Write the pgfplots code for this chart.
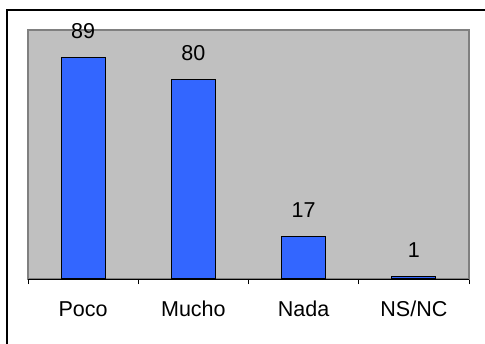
\documentclass[border=0pt]{standalone}
\usepackage{fontspec}
\setmainfont{Liberation Sans}
\usepackage{pgfplots}
\pgfplotsset{compat=1.18}
\definecolor{barblue}{HTML}{3366FF}
\definecolor{plotgray}{HTML}{C0C0C0}
\definecolor{edgegray}{HTML}{808080}
\newcommand{\lblfont}{\fontsize{21.6}{25}\selectfont}
\begin{document}
\begin{tikzpicture}
\useasboundingbox (0,0) rectangle (485bp,344bp);
\draw[line width=1.2bp] (7bp,0) -- (7bp,334bp) -- (485bp,334bp);
\begin{axis}[
  at={(28bp,65bp)}, anchor=south west,
  scale only axis, width=441bp, height=249bp,
  xmin=-0.5, xmax=3.5, ymin=0, ymax=100,
  ytick=\empty,
  xtick={0,1,2,3},
  xticklabels={Poco,Mucho,Nada,NS/NC},
  xtick pos=bottom,
  major x tick style={draw=none},
  minor xtick={-0.5,0.5,1.5,2.5,3.5},
  minor tick length=5bp,
  tick align=outside,
  x tick style={black, line width=0.8bp},
  axis line style={draw=edgegray, line width=1.2bp},
  axis background/.style={fill=plotgray},
  xticklabel style={font=\lblfont, anchor=base, yshift=-33bp},
  /pgf/number format/assume math mode=true,
  nodes near coords,
  nodes near coords style={font=\lblfont, anchor=base, yshift=19bp, text=black},
  clip=false,
]
\addplot[ybar, bar width=44bp, fill=barblue, draw=black, line width=1.2bp]
  coordinates {(0,89) (1,80) (2,17) (3,1)};
\draw[black, line width=1bp] (rel axis cs:0,0) -- (rel axis cs:1,0);
\end{axis}
\end{tikzpicture}
\end{document}
